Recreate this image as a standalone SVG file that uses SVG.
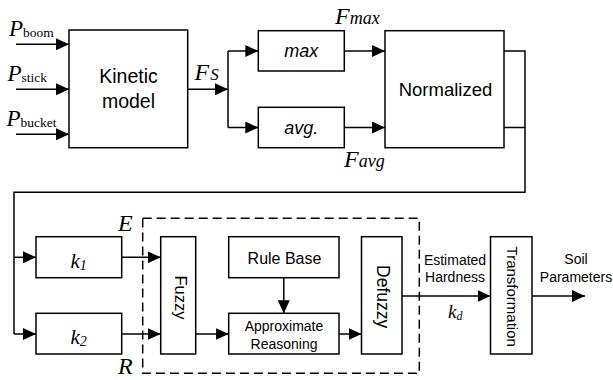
<svg xmlns="http://www.w3.org/2000/svg" width="613" height="380" viewBox="0 0 613 380">
  <style>
    .box { fill: #fff; stroke: #000; stroke-width: 1.5; }
    .line { fill: none; stroke: #000; stroke-width: 1.5; }
    .arrow { marker-end: url(#head); }
    .dash { fill: none; stroke: #000; stroke-width: 1.5; stroke-dasharray: 9 5; }
    .sans { font-family: "Liberation Sans", Arial, sans-serif; fill: #000; }
    .math { font-family: "Liberation Serif", "Times New Roman", serif; font-style: italic; fill: #000; }
    .rm { font-family: "Liberation Serif", "Times New Roman", serif; fill: #000; }
    .mid { text-anchor: middle; }
  </style>
  <defs>
    <marker id="head" markerUnits="userSpaceOnUse" markerWidth="13" markerHeight="12" refX="13" refY="6" orient="auto">
      <path d="M0,0 L13,6 L0,12 Z" fill="#000"/>
    </marker>
  </defs>

  <!-- fuzzy inference region -->
  <rect class="dash" x="142.7" y="218.3" width="276.6" height="155"/>

  <g id="connectors">
    <!-- pressure inputs -->
    <line class="line arrow" x1="16" y1="44.3" x2="69" y2="44.3"/>
    <line class="line arrow" x1="16" y1="89.3" x2="69" y2="89.3"/>
    <line class="line arrow" x1="16" y1="134.3" x2="69" y2="134.3"/>
    <!-- force split -->
    <line class="line arrow" x1="187.7" y1="89.3" x2="228" y2="89.3"/>
    <line class="line" x1="228" y1="51" x2="228" y2="127.5"/>
    <line class="line arrow" x1="228" y1="51" x2="258.3" y2="51"/>
    <line class="line arrow" x1="228" y1="127.5" x2="258.3" y2="127.5"/>
    <line class="line arrow" x1="344.3" y1="51" x2="385" y2="51"/>
    <line class="line arrow" x1="344.3" y1="127.5" x2="385" y2="127.5"/>
    <!-- normalized outputs fed back down -->
    <polyline class="line" points="504,51 525,51 525,192.3 14,192.3 14,334"/>
    <line class="line" x1="504" y1="127.5" x2="525" y2="127.5"/>
    <line class="line arrow" x1="14" y1="257.3" x2="36" y2="257.3"/>
    <line class="line arrow" x1="14" y1="334" x2="36" y2="334"/>
    <!-- fuzzy chain -->
    <line class="line arrow" x1="121.7" y1="257.3" x2="160.7" y2="257.3"/>
    <line class="line arrow" x1="121.7" y1="334" x2="160.7" y2="334"/>
    <line class="line arrow" x1="195.7" y1="334" x2="228.7" y2="334"/>
    <line class="line arrow" x1="283.8" y1="277.7" x2="283.8" y2="313.3"/>
    <line class="line arrow" x1="339" y1="334" x2="361.5" y2="334"/>
    <line class="line arrow" x1="402" y1="296" x2="490.5" y2="296"/>
    <line class="line arrow" x1="532" y1="296" x2="585" y2="296"/>
  </g>

  <!-- signal labels -->
  <text class="math" x="9" y="35.5" font-size="23">P<tspan class="rm" font-style="normal" font-size="13.5" dy="1.5">boom</tspan></text>
  <text class="math" x="7.5" y="80.5" font-size="23">P<tspan class="rm" font-style="normal" font-size="13.5" dy="1.5">stick</tspan></text>
  <text class="math" x="6.5" y="125.5" font-size="23">P<tspan class="rm" font-style="normal" font-size="13.5" dy="1.5">bucket</tspan></text>
  <text class="math" x="194.5" y="79.5" font-size="24">F<tspan font-size="17" dx="1">S</tspan></text>
  <text class="math" x="335" y="23.5" font-size="24">F<tspan font-size="18">max</tspan></text>
  <text class="math" x="344" y="167" font-size="24">F<tspan font-size="18">avg</tspan></text>
  <text class="math" x="118" y="230.5" font-size="24">E</text>
  <text class="math" x="118" y="373.5" font-size="24">R</text>
  <text class="math" x="448" y="318" font-size="19">k<tspan font-size="12" dy="2">d</tspan></text>

  <g id="kinetic">
    <rect class="box" x="69" y="30" width="118.7" height="117.7"/>
    <text class="sans mid" x="128.5" y="83" font-size="19.5">Kinetic</text>
    <text class="sans mid" x="128.5" y="108" font-size="19.5">model</text>
  </g>
  <g id="max">
    <rect class="box" x="258.3" y="30.7" width="86" height="40.3"/>
    <text class="sans mid" x="301.3" y="57" font-size="18" font-style="italic">max</text>
  </g>
  <g id="avg">
    <rect class="box" x="258.3" y="107.3" width="86" height="40.4"/>
    <text class="sans mid" x="301.3" y="133.5" font-size="18" font-style="italic">avg.</text>
  </g>
  <g id="normalized">
    <rect class="box" x="385" y="30.7" width="119" height="117"/>
    <text class="sans mid" x="445.5" y="95.5" font-size="18.5">Normalized</text>
  </g>
  <g id="k1">
    <rect class="box" x="36" y="236.7" width="85.7" height="41"/>
    <text class="math" x="70.5" y="267.5" font-size="21">k<tspan font-size="14" dy="2">1</tspan></text>
  </g>
  <g id="k2">
    <rect class="box" x="36" y="313.3" width="85.7" height="40.7"/>
    <text class="math" x="70.5" y="344" font-size="21">k<tspan font-size="14" dy="2">2</tspan></text>
  </g>
  <g id="fuzzy">
    <rect class="box" x="160.7" y="236.7" width="35" height="117.3"/>
    <text class="sans mid" transform="translate(175 297.5) rotate(90)" font-size="16.5">Fuzzy</text>
  </g>
  <g id="rule-base">
    <rect class="box" x="228.7" y="236.7" width="110.3" height="41"/>
    <text class="sans mid" x="284.5" y="263.5" font-size="16">Rule Base</text>
  </g>
  <g id="reasoning">
    <rect class="box" x="228.7" y="313.3" width="110.3" height="40.7"/>
    <text class="sans mid" x="284" y="330.5" font-size="14">Approximate</text>
    <text class="sans mid" x="284" y="348.5" font-size="14">Reasoning</text>
  </g>
  <g id="defuzzy">
    <rect class="box" x="361.5" y="236.7" width="40.5" height="117.3"/>
    <text class="sans mid" transform="translate(376.5 296.7) rotate(90)" font-size="17.5">Defuzzy</text>
  </g>
  <g id="transformation">
    <rect class="box" x="490.5" y="236.7" width="41.5" height="117.3"/>
    <text class="sans mid" transform="translate(506.5 296.7) rotate(90)" font-size="15">Transformation</text>
  </g>

  <!-- output annotations -->
  <text class="sans mid" x="455" y="265" font-size="14">Estimated</text>
  <text class="sans mid" x="455" y="281.5" font-size="14">Hardness</text>
  <text class="sans mid" x="576" y="264" font-size="14">Soil</text>
  <text class="sans mid" x="576" y="281.5" font-size="14">Parameters</text>
</svg>
